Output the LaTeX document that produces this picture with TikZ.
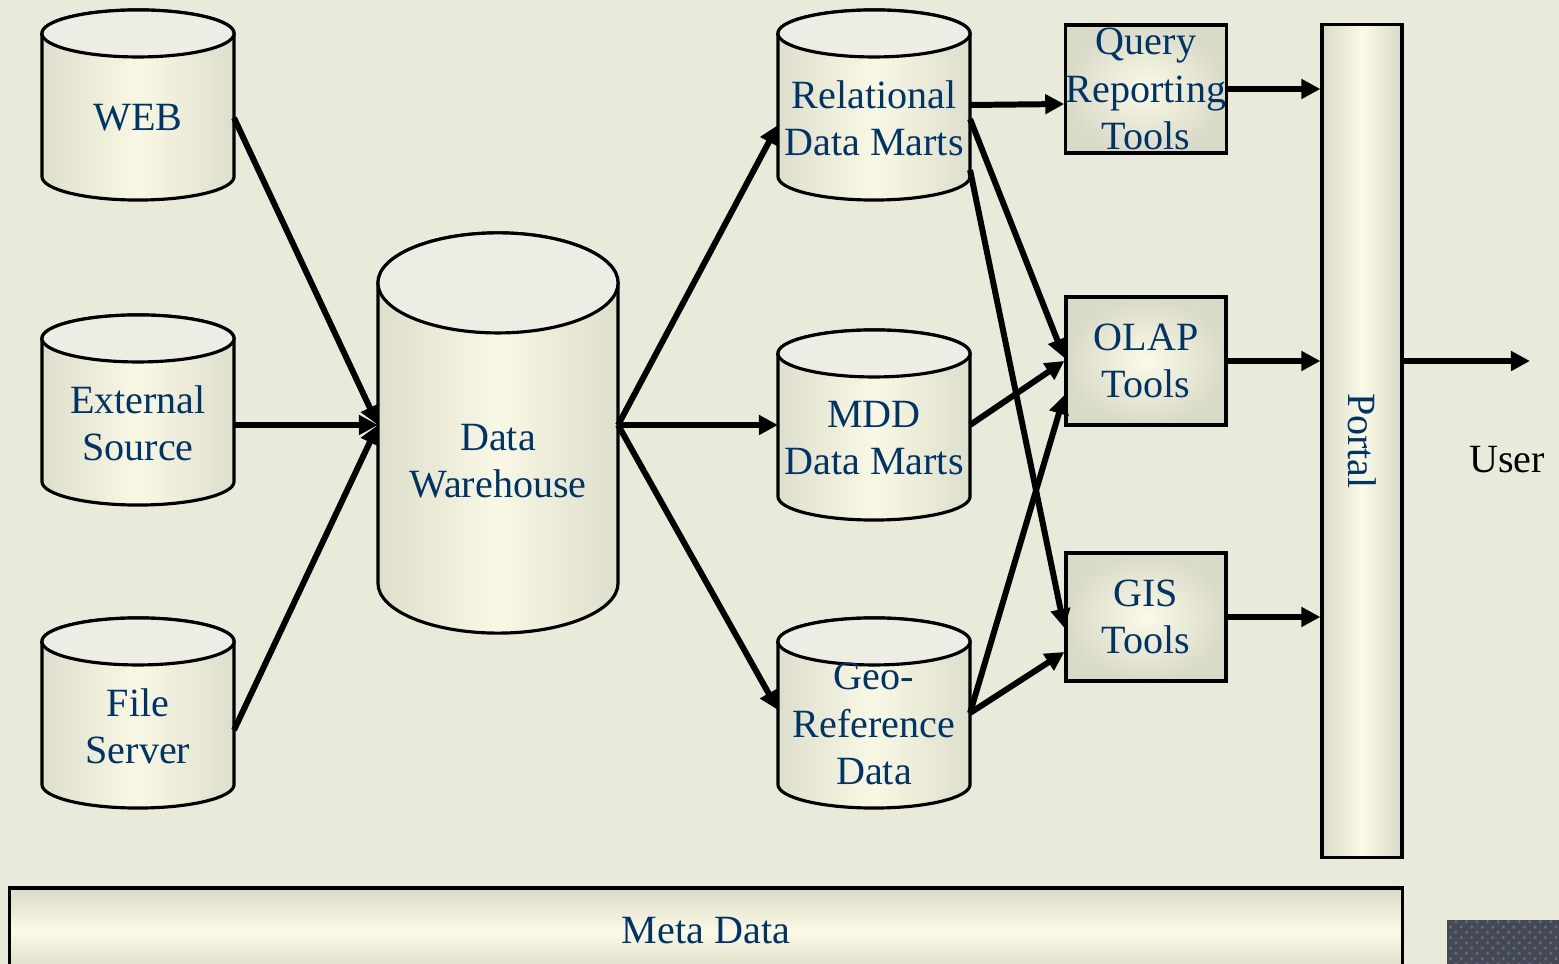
\documentclass[tikz,border=0pt]{standalone}
\usepackage{fontspec}
\setmainfont{Liberation Serif}
\usepackage{tikz}
\usetikzlibrary{shapes,arrows.meta,positioning,calc,patterns}

\definecolor{bgpaper}{RGB}{234,234,218}
\definecolor{navy}{RGB}{0,51,102}
\definecolor{dbedge}{RGB}{222,222,204}
\definecolor{dbmid}{RGB}{248,248,228}
\definecolor{dbtop}{RGB}{237,237,229}
\definecolor{boxin}{RGB}{250,250,230}
\definecolor{boxout}{RGB}{218,218,200}
\definecolor{decogray}{RGB}{72,72,82}

% cylinder drawn inside a node: #1 = x radius, #2 = y radius
\newcommand\dbcyl[2]{%
  \coordinate (dbtl) at ([shift={(1pt,-1pt-#2)}]path picture bounding box.north west);
  \coordinate (dbtr) at ([shift={(-1pt,-1pt-#2)}]path picture bounding box.north east);
  \coordinate (dbbl) at ([shift={(1pt,1pt+#2)}]path picture bounding box.south west);
  \coordinate (dbtc) at ([yshift=-1pt-#2]path picture bounding box.north);
  \path[draw, line width=0.9pt, left color=dbedge, right color=dbedge, middle color=dbmid]
    (dbtl) -- (dbbl) arc[start angle=180, end angle=360, x radius=#1, y radius=#2]
    -- (dbtr) arc[start angle=0, end angle=180, x radius=#1, y radius=#2] -- cycle;
  \filldraw[line width=0.9pt, fill=dbtop] (dbtc) ellipse[x radius=#1, y radius=#2];
}

\begin{document}
\begin{tikzpicture}[
    x=0.01cm, y=-0.01cm,
    font=\fontsize{11.4}{13.4}\selectfont,
    db/.style={rectangle, inner sep=0pt, outer sep=-1pt, minimum width=1.92cm+2pt, minimum height=1.9cm+2pt,
        path picture={\dbcyl{0.96cm}{0.235cm}}},
    dbbig/.style={rectangle, inner sep=0pt, outer sep=-1pt, minimum width=2.4cm+2pt, minimum height=4cm+2pt,
        path picture={\dbcyl{1.2cm}{0.5cm}}},
    dbtext/.style={align=center, text=navy, yshift=-0.13cm},
    toolbox/.style={rectangle, draw, line width=0.9pt, inner color=boxin, outer color=boxout,
        text=navy, align=center, minimum width=1.6cm, minimum height=1.28cm, inner sep=0pt},
    arrow/.style={-{Triangle[length=0.19cm,width=0.19cm]}, line width=1.7pt}
]
\clip (0,0) rectangle (1559,964);
\fill[bgpaper] (0,0) rectangle (1559,964);

% Sources
\node[db, label={[dbtext]center:WEB}] (web) at (138,105) {};
\node[db, label={[dbtext]center:External\\Source}] (ext) at (138,410) {};
\node[db, label={[dbtext]center:File\\Server}] (file) at (138,713) {};

% Data Warehouse
\node[dbbig, label={[dbtext, yshift=-0.15cm]center:Data\\Warehouse}] (dw) at (498,433) {};

% Data Marts
\node[db, label={[dbtext]center:Relational\\Data Marts}] (rel) at (874,105) {};
\node[db, label={[dbtext]center:MDD\\Data Marts}] (mdd) at (874,425) {};
\node[db, label={[dbtext, yshift=0.02cm]center:Geo-\\Reference\\Data}] (geo) at (874,713) {};

% Tools
\node[toolbox] (query) at (1146,89) {Query\\Reporting\\Tools};
\node[toolbox] (olap) at (1146,361) {OLAP\\Tools};
\node[toolbox] (gis) at (1146,617) {GIS\\Tools};

% Portal and Meta Data
\node[rectangle, draw, line width=0.9pt, left color=boxout, right color=boxout, middle color=boxin,
    minimum width=0.8cm, minimum height=8.32cm] (portal) at (1362,441) {};
\node[text=navy, rotate=-90] (portaltxt) at (portal.center) {Portal};
\node[rectangle, draw, line width=0.9pt, top color=boxout, bottom color=boxout, middle color=boxin,
    text=navy, minimum width=13.92cm, minimum height=0.86cm] (meta) at (706,931) {Meta Data};

% User
\node (user) at (1507,460) {User};
\coordinate (userend) at (1530,361);

% corner decoration
\fill[decogray] (1447,920) rectangle (1559,964);
\fill[pattern=crosshatch dots, pattern color=navy!70] (1447,920) rectangle (1559,964);

% Arrows into the warehouse
\coordinate (dwin) at ([yshift=0.08cm]dw.west);
\coordinate (dwout) at ([yshift=0.08cm]dw.east);
\draw[arrow] ([yshift=-0.13cm]web.east) -- (dwin);
\draw[arrow] ([yshift=-0.15cm]ext.east) -- (dwin);
\draw[arrow] ([yshift=-0.17cm]file.east) -- (dwin);

% Arrows to the data marts
\draw[arrow] (dwout) -- ([yshift=-0.2cm]rel.west);
\draw[arrow] (dwout) -- (mdd.west);
\draw[arrow] (dwout) -- ([yshift=0.03cm]geo.west);

% Arrows to the tools
\draw[arrow] (rel.east) -- ([yshift=-0.15cm]query.west);
\draw[arrow] ([yshift=-0.14cm]rel.east) -- ([yshift=0.03cm]olap.west);
\draw[arrow] ([yshift=-0.65cm]rel.east) -- ([yshift=-0.11cm]gis.west);
\draw[arrow] (mdd.east) -- (olap.west);
\draw[arrow] (geo.east) -- ([yshift=-0.34cm]olap.west);
\draw[arrow] (geo.east) -- ([yshift=-0.35cm]gis.west);

% Arrows to the portal and the user
\draw[arrow] (query.east) -- (query.east -| portal.west);
\draw[arrow] (olap.east) -- (olap.east -| portal.west);
\draw[arrow] (gis.east) -- (gis.east -| portal.west);
\draw[arrow] (olap.east -| portal.east) -- (userend);

\end{tikzpicture}
\end{document}
